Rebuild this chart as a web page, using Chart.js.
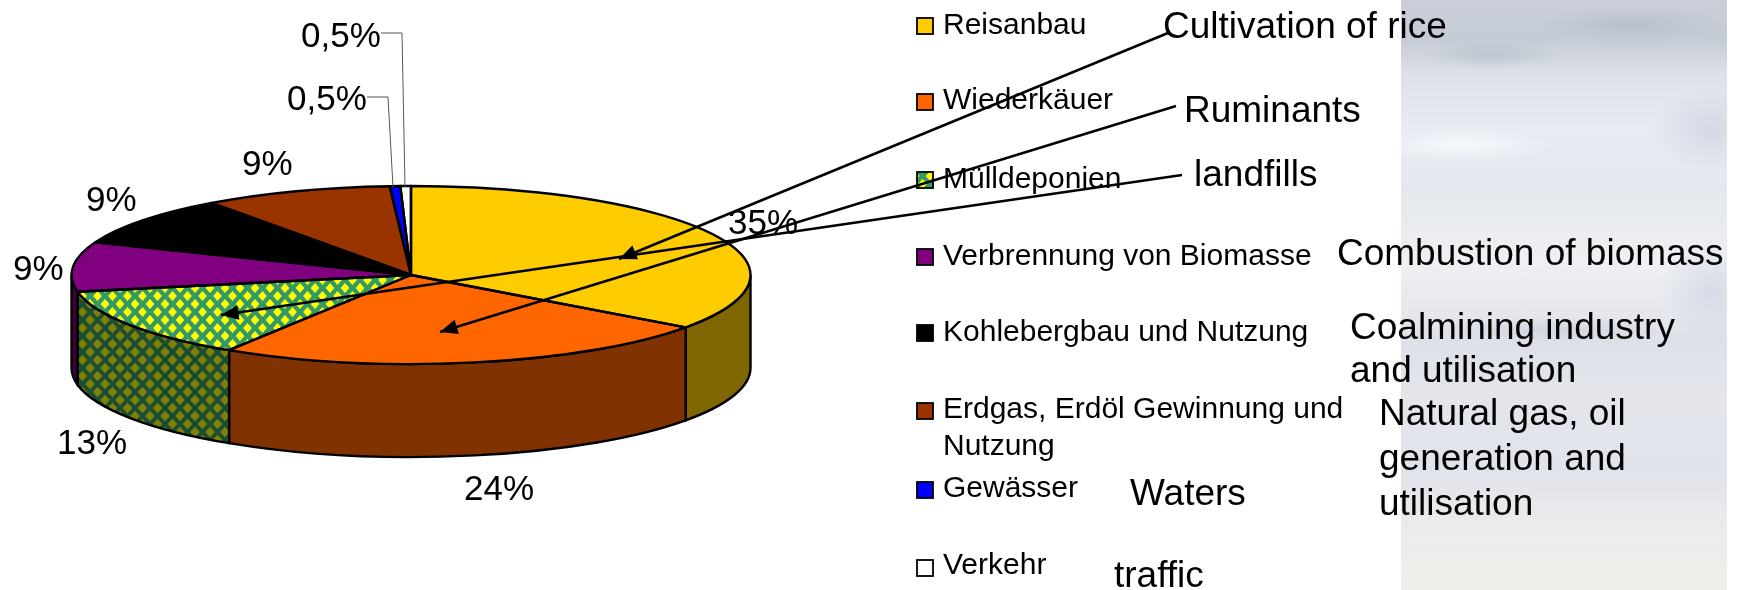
<!DOCTYPE html>
<html>
<head>
<meta charset="utf-8">
<style>
  html, body { margin: 0; padding: 0; background: #fff; overflow: hidden; }
  #clouds {
    position: absolute; left: 1401px; top: 0; width: 326px; height: 590px;
    background:
      radial-gradient(ellipse 70px 14px at 90px 55px, rgba(175,185,195,.55), transparent),
      radial-gradient(ellipse 90px 18px at 230px 25px, rgba(170,180,195,.5), transparent),
      radial-gradient(ellipse 90px 16px at 60px 145px, rgba(250,252,255,.8), transparent),
      radial-gradient(ellipse 60px 40px at 310px 130px, rgba(190,198,215,.5), transparent),
      radial-gradient(ellipse 120px 12px at 150px 330px, rgba(195,200,215,.5), transparent),
      radial-gradient(ellipse 50px 50px at 310px 290px, rgba(195,203,220,.5), transparent),
      linear-gradient(to bottom, #c9ced8 0, #c6ccd5 40px, #dde1e8 75px, #e8ebf2 130px, #e4e7ed 190px,
        #eef0f3 260px, #e6e8ee 310px, #dde0e8 340px, #e4e6ec 400px, #e0e3ea 470px, #ebecec 530px, #efefea 590px);
  }
  #chart { position: absolute; left: 0; top: 0; }
</style>
</head>
<body>
<div id="clouds"></div>
<canvas id="chart" width="1748" height="590"></canvas>
<script src="https://cdn.jsdelivr.net/npm/chart.js@4"></script>
<script>
const categories = ["Reisanbau", "Wiederkäuer", "Mülldeponien", "Verbrennung von Biomasse",
  "Kohlebergbau und Nutzung", "Erdgas, Erdöl Gewinnung und Nutzung", "Gewässer", "Verkehr"];
const shares = [35, 24, 13, 9, 9, 9, 0.5, 0.5];
const shareLabels = ["35%", "24%", "13%", "9%", "9%", "9%", "0,5%", "0,5%"];

const FONT = '"Liberation Sans", Arial, sans-serif';
const DEPTH = 93;
const SQUASH = 89 / 339.5;

/* ---------- HATCH ---------- */

function diamonds(bg, fg, hx, hy) {
  const w = 15, h = 16;
  const tile = document.createElement("canvas");
  tile.width = w;
  tile.height = h;
  const c = tile.getContext("2d");
  c.fillStyle = bg;
  c.fillRect(0, 0, w, h);
  c.fillStyle = fg;
  [[w / 2, h / 2], [0, 0], [w, 0], [0, h], [w, h]].forEach(([x, y]) => {
    c.beginPath();
    c.moveTo(x - hx, y);
    c.lineTo(x, y - hy);
    c.lineTo(x + hx, y);
    c.lineTo(x, y + hy);
    c.closePath();
    c.fill();
  });
  return document.querySelector("canvas").getContext("2d").createPattern(tile, "repeat");
}

const landfillTop = diamonds("#339966", "#ffff00", 4.4, 5);
const landfillSide = diamonds("#1a4d33", "#808000", 4.8, 5.3);

const topColors = ["#ffcc00", "#ff6600", landfillTop, "#800080", "#000000", "#993300", "#0000ff", "#ffffff"];
const sideColors = ["#806600", "#803300", landfillSide, "#400040", "#000000", "#4d1a00", "#000080", "#808080"];

/* ---------- TEXT AND LEADERS ---------- */

// [text, left, middle]
const shareSpots = [
  [shareLabels[0], 728, 224], [shareLabels[1], 464, 490], [shareLabels[2], 57, 444],
  [shareLabels[3], 13, 270], [shareLabels[4], 86, 201], [shareLabels[5], 242, 165],
  [shareLabels[6], 287, 100], [shareLabels[7], 301, 37]
];
const legendRows = [26, 102, 180, 257, 333, 411, 490, 568];
const legendText = [
  [categories[0], 26], [categories[1], 101], [categories[2], 180], [categories[3], 257],
  [categories[4], 333], ["Erdgas, Erdöl Gewinnung und", 410], ["Nutzung", 447],
  [categories[6], 489], [categories[7], 566]
];
const english = [
  ["Cultivation of rice", 1163, 28], ["Ruminants", 1184, 112], ["landfills", 1194, 176],
  ["Combustion of biomass", 1337, 255], ["Coalmining industry", 1350, 329], ["and utilisation", 1350, 372],
  ["Natural gas, oil", 1379, 415], ["generation and", 1379, 460], ["utilisation", 1379, 505],
  ["Waters", 1130, 495], ["traffic", 1114, 577]
];
const arrows = [
  [1168, 33, 619, 259],
  [1176, 106, 440, 332],
  [1182, 175, 221, 315]
];
const leaders = [
  [[381, 33], [402, 33], [405, 187]],
  [[367, 97], [388, 97], [393, 187]]
];

function ellipsePath(ctx, a, start, end, reverse, dy) {
  ctx.ellipse(a.x, a.y + dy, a.outerRadius, a.outerRadius * SQUASH, 0, start, end, reverse);
}

function drawArrow(ctx, x0, y0, x1, y1) {
  const ang = Math.atan2(y1 - y0, x1 - x0);
  ctx.beginPath();
  ctx.moveTo(x0, y0);
  ctx.lineTo(x1, y1);
  ctx.lineWidth = 2.5;
  ctx.stroke();
  ctx.beginPath();
  ctx.moveTo(x1, y1);
  ctx.lineTo(x1 - 19 * Math.cos(ang - 0.4), y1 - 19 * Math.sin(ang - 0.4));
  ctx.lineTo(x1 - 19 * Math.cos(ang + 0.4), y1 - 19 * Math.sin(ang + 0.4));
  ctx.closePath();
  ctx.fill();
}

/* ---------- PIE IN PERSPECTIVE ---------- */

const tiltedPie = {
  id: "tiltedPie",
  beforeDatasetsDraw(chart) {
    const ctx = chart.ctx;
    const arcs = chart.getDatasetMeta(0).data;
    ctx.save();
    ctx.strokeStyle = "#000";
    ctx.lineWidth = 2.4;
    arcs.forEach((a, i) => {
      // only the part of a slice between 3 and 9 o'clock shows its wall
      const from = Math.max(a.startAngle, 0);
      const to = Math.min(a.endAngle, Math.PI);
      if (to <= from) return;
      ctx.beginPath();
      ellipsePath(ctx, a, from, to, false, 0);
      ellipsePath(ctx, a, to, from, true, DEPTH);
      ctx.closePath();
      ctx.fillStyle = sideColors[i];
      ctx.fill();
      ctx.stroke();
    });
    ctx.restore();
  },
  beforeDatasetDraw(chart) {
    const ctx = chart.ctx;
    const a = chart.getDatasetMeta(0).data[0];
    const squash = new DOMMatrix().translate(a.x, a.y).scale(1, SQUASH).translate(-a.x, -a.y);
    landfillTop.setTransform(squash.inverse());
    ctx.save();
    ctx.transform(squash.a, squash.b, squash.c, squash.d, squash.e, squash.f);
  },
  afterDatasetDraw(chart) {
    const ctx = chart.ctx;
    ctx.restore();
    ctx.save();
    ctx.strokeStyle = "#000";
    ctx.lineWidth = 2.4;
    ctx.lineJoin = "round";
    chart.getDatasetMeta(0).data.forEach(a => {
      ctx.beginPath();
      ctx.moveTo(a.x, a.y);
      ellipsePath(ctx, a, a.startAngle, a.endAngle, false, 0);
      ctx.closePath();
      ctx.stroke();
    });
    ctx.restore();
  },
  afterDraw(chart) {
    const ctx = chart.ctx;
    ctx.save();
    ctx.textBaseline = "middle";
    ctx.textAlign = "left";
    ctx.fillStyle = "#000";

    // percentage labels
    ctx.font = `35px ${FONT}`;
    shareSpots.forEach(([t, x, y]) => ctx.fillText(t, x, y));

    // thin leaders of the two small slices
    ctx.strokeStyle = "#555";
    ctx.lineWidth = 1;
    leaders.forEach(pts => {
      ctx.beginPath();
      pts.forEach(([x, y], i) => (i ? ctx.lineTo(x, y) : ctx.moveTo(x, y)));
      ctx.stroke();
    });

    // legend
    ctx.font = `30px ${FONT}`;
    legendText.forEach(([t, y]) => ctx.fillText(t, 943, y));
    ctx.strokeStyle = "#000";
    ctx.lineWidth = 1.8;
    landfillTop.setTransform(new DOMMatrix());
    legendRows.forEach((y, i) => {
      ctx.fillStyle = topColors[i];
      ctx.fillRect(917, y - 8, 16, 16);
      ctx.strokeRect(917, y - 8, 16, 16);
    });

    // English notes
    ctx.fillStyle = "#000";
    ctx.font = `37px ${FONT}`;
    english.forEach(([t, x, y]) => ctx.fillText(t, x, y));

    // arrows into the slices
    ctx.strokeStyle = "#000";
    arrows.forEach(([x0, y0, x1, y1]) => drawArrow(ctx, x0, y0, x1, y1));
    ctx.restore();
  }
};

/* ---------- CHART ---------- */

new Chart(document.getElementById("chart"), {
  type: "pie",
  data: {
    labels: categories,
    datasets: [{
      data: shares,
      backgroundColor: topColors,
      borderWidth: 0,
      radius: 339.5,
      clip: false
    }]
  },
  options: {
    responsive: false,
    animation: false,
    layout: { padding: { left: 0, top: 0, right: 926, bottom: 40 } },
    plugins: {
      legend: { display: false },
      tooltip: { enabled: false }
    }
  },
  plugins: [tiltedPie]
});
</script>
</body>
</html>
